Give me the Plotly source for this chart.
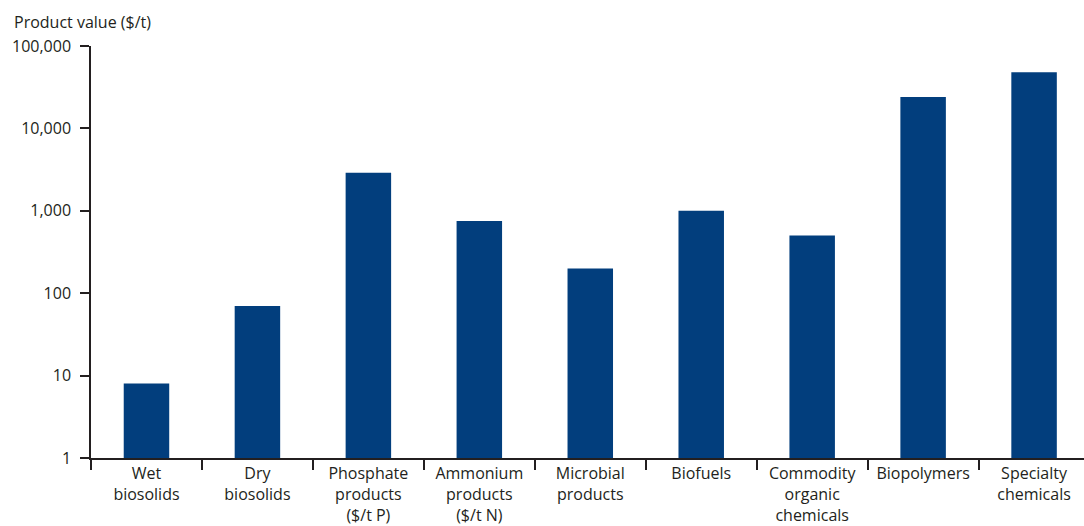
import plotly.graph_objects as go

categories = ["Wet<br>biosolids", "Dry<br>biosolids", "Phosphate<br>products<br>($/t P)",
              "Ammonium<br>products<br>($/t N)", "Microbial<br>products", "Biofuels",
              "Commodity<br>organic<br>chemicals", "Biopolymers", "Specialty<br>chemicals"]
values = [8, 70, 2900, 750, 200, 1000, 500, 24000, 48000]
y_tickvals = [1, 10, 100, 1000, 10000, 100000]
y_ticktext = ["1", "10", "100", "1,000", "10,000", "100,000"]

font_family = "Open Sans, Lato, sans-serif"
FS = 16
fig = go.Figure(go.Bar(x=categories, y=values, marker=dict(color="#023e7d", line=dict(width=0)),
                       width=0.41))

fig.update_layout(
    width=1084, height=526,
    margin=dict(l=91, r=0, t=46, b=66),
    plot_bgcolor="white", paper_bgcolor="white",
    showlegend=False,
    font=dict(family=font_family, size=FS, color="#231f20"),
)
fig.layout.annotations = [dict(text="Product value ($/t)", xref="paper", yref="paper",
                               x=-79/993, y=1 + 24/414, xanchor="left", yanchor="middle",
                               showarrow=False, font=dict(size=FS, color="#231f20"))]

fig.update_xaxes(
    type="category", range=[-0.5, 8.45],
    showline=True, linecolor="#231f20", linewidth=1.5,
    ticks="outside", tickson="boundaries", ticklen=10, tickwidth=1.5, tickcolor="#231f20",
    showgrid=False, tickfont=dict(size=FS), fixedrange=True,
)
fig.update_yaxes(
    type="log", range=[0, 5],
    tickvals=y_tickvals, ticktext=y_ticktext,
    showline=True, linecolor="#231f20", linewidth=1.5,
    ticks="outside", ticklen=9, tickwidth=1.5, tickcolor="#231f20",
    showgrid=False, zeroline=False, tickfont=dict(size=FS), ticklabelstandoff=6,
)

fig.write_html("out.html")
